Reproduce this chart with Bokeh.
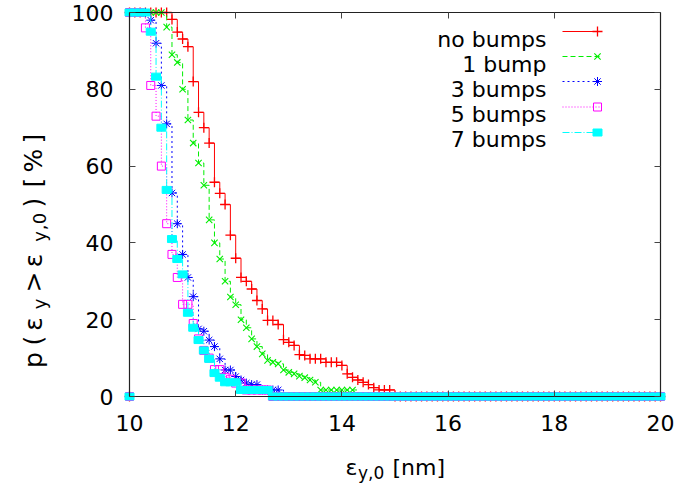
import math
from bokeh.plotting import figure
from bokeh.models import Range1d, LinearAxis, FixedTicker, Label
from bokeh.embed import file_html
from bokeh.resources import INLINE

# threshold grid for eps_y,0 in nm (0.1 nm spacing, 10..20)
eps_grid = [round(10.0 + 0.1 * k, 1) for k in range(101)]

# p(eps_y > eps_y,0) in %, the part of each curve between the 100 % and 0 % plateaus
no_bumps = [98.2, 94.9, 93.1, 91.1, 82, 74, 70, 66, 55.8, 52.9, 50, 42, 36, 31, 30,
            28, 25, 22.8, 19.8, 19.8, 18.75, 14.8, 14.1, 13.3, 10.9, 10.7, 9.8, 9.8,
            9.8, 8.9, 8.9, 8.9, 8.1, 5.9, 5.0, 4.3, 3.7, 3.1, 2.3, 1.7, 1.7, 1.7]
one_bump = [96.2, 89, 87, 80, 72, 66, 60.8, 55, 46, 40, 35.8, 30, 25.9, 23.9, 20, 17.9,
            15, 13, 11.1, 9.4, 8.9, 8.5, 6.9, 6.3, 5.9, 5.3, 4.9, 4.3, 3.7,
            1.7, 1.7, 1.7, 1.7, 1.7, 1.7, 1.7]
three_bumps = [98, 92, 81, 71, 53, 45, 37, 31, 26, 17.6, 17, 14.7, 13, 9.8, 6.9, 6.9,
               5.2, 4.3, 3.5, 3.1, 3.1, 1.7, 1.7, 1.7, 1.7]
five_bumps = [96, 81, 73, 60, 45, 37, 31, 24, 24, 19, 15, 12, 10, 7, 7, 5, 4.5, 3.5, 3.5,
              1.7, 1.7, 1.7, 1.7, 1.7]
seven_bumps = [95, 83.3, 70, 53.8, 41, 35.8, 31.8, 21.8, 17.9, 14.7, 12, 9.8, 6.1, 4.9,
               3.7, 3.7, 3.7, 1.7, 1.7, 1.7, 1.7, 1.7, 1.7]

# number of grid points on the 100 % plateau before each curve starts to fall
plateau = {"no bumps": 8, "1 bump": 7, "3 bumps": 4, "5 bumps": 3, "7 bumps": 4}

labels = ["no bumps", "1 bump", "3 bumps", "5 bumps", "7 bumps"]
curves = [no_bumps, one_bump, three_bumps, five_bumps, seven_bumps]
colors = ["#ff0000", "#00ee00", "#0000ff", "#ff00ff", "#00ffff"]
dashes = ["solid", "5 3", "2 3", "1 2", "7 2 1 2"]
markers = ["cross", "x", "asterisk", "square", "block"]
msizes = [10, 9, 9, 8, 9]
mwidths = [1.3, 1.1, 1, 1, 1]

x_ticks = [10, 12, 14, 16, 18, 20]
y_ticks = [0, 20, 40, 60, 80, 100]

FONT = "DejaVu Sans"
W, H = 678, 483

# plot box in canvas pixels; the frame spans the whole canvas and the
# axes are pinned to the box edges with fixed_location
LEFT, RIGHT, TOP, BOTTOM = 129, 660, 12, 396
PX_X = (RIGHT - LEFT) / 10.0
PX_Y = (BOTTOM - TOP) / 100.0


def dx(px):
    return 10.0 + (px - LEFT) / PX_X


def dy(py):
    return (BOTTOM - py) / PX_Y


p = figure(width=W, height=H, output_backend="svg", toolbar_location=None,
           x_range=Range1d(dx(0), dx(W)), y_range=Range1d(dy(H), dy(0)),
           x_axis_location=None, y_axis_location=None, min_border=0)
p.min_border_left = 0
p.min_border_right = 0
p.min_border_top = 0
p.min_border_bottom = 0
p.xgrid.visible = False
p.ygrid.visible = False
p.outline_line_color = None
p.background_fill_color = "white"
p.border_fill_color = "white"


def make_axis(ticks, loc, bounds, show_labels):
    ax = LinearAxis(ticker=FixedTicker(ticks=ticks), fixed_location=loc, bounds=bounds)
    ax.axis_line_color = "#222222"
    ax.axis_line_width = 1.2
    ax.major_tick_in = 6
    ax.major_tick_out = 0
    ax.major_tick_line_color = "#444444"
    ax.major_tick_line_width = 1
    ax.minor_tick_line_color = None
    ax.major_label_text_font = FONT
    ax.major_label_text_font_size = "22px"
    ax.major_label_text_color = "black" if show_labels else None
    return ax


xb = make_axis(x_ticks, 0, (10, 20), True)
xb.major_label_standoff = 18
p.add_layout(xb, "below")
yl = make_axis(y_ticks, 10, (0, 100), True)
yl.major_label_standoff = 16
p.add_layout(yl, "left")
p.add_layout(make_axis(x_ticks, 100, (10, 20), False), "above")
p.add_layout(make_axis(y_ticks, 20, (0, 100), False), "right")


def draw_points(xs, ys, col, mk, ms, lw):
    if mk == "block":
        # filled boxes, slightly wider than tall
        p.rect(xs, ys, width=ms, height=ms - 2, width_units="screen",
               height_units="screen", fill_color=col, line_color=col, line_width=lw)
    else:
        p.scatter(xs, ys, marker=mk, size=ms, line_color=col, line_width=lw,
                  fill_color=None)


# the step curves with their point markers
for name, vals, col, dash, mk, ms, lw in zip(labels, curves, colors, dashes,
                                             markers, msizes, mwidths):
    n_top = plateau[name]
    n_zero = len(eps_grid) - n_top - len(vals)
    ys = [0.0] + [100.0] * n_top + vals + [0.0] * n_zero
    xs = [eps_grid[0]] + eps_grid
    p.step(xs, ys, mode="after", line_color=col, line_width=1, line_dash=dash)
    draw_points(xs, ys, col, mk, ms, lw)

# key: text on the left, line sample with its marker on the right
key_text_base = [39, 64, 89, 114, 139]     # baseline, px from top
key_line_mid = [31, 56, 81, 106.5, 132]      # sample line, px from top
for i, (name, col, dash, mk, ms, lw) in enumerate(zip(labels, colors, dashes,
                                                      markers, msizes, mwidths)):
    p.add_layout(Label(x=dx(546), y=dy(key_text_base[i]), text=name, text_font=FONT,
                       text_font_size="22px", text_align="right",
                       text_baseline="alphabetic", text_color="black"))
    yk = dy(key_line_mid[i])
    p.segment(x0=[dx(562)], x1=[dx(600)], y0=[yk], y1=[yk], line_color=col,
              line_width=1, line_dash=dash)
    draw_points([dx(597)], [yk], col, mk, ms, lw)


def text_piece(px, py, text, size, angle=0.0, align="left"):
    p.add_layout(Label(x=dx(px), y=dy(py), text=text, text_font=FONT,
                       text_font_size=size, text_align=align,
                       text_baseline="alphabetic", angle=angle,
                       text_color="black"))


# x-axis title: eps_{y,0} [nm]
text_piece(345, 467, "\u03b5", "22px")
text_piece(357.5, 472, "y,0", "17px")
text_piece(392, 467, "[nm]", "22px")

# y-axis title: p(eps_y > eps_{y,0}) [%], rotated, one glyph at a time
half_pi = math.pi / 2
main_chars = [("p", 359.5), ("(", 340), ("\u03b5", 323.5), (">", 281.5),
              ("\u03b5", 260), (")", 202), ("[", 182), ("%", 160), ("]", 138)]
sub_chars = [("y", 303.5), ("y", 236), (",", 227), ("0", 218)]
for ch, yc in main_chars:
    text_piece(33, yc, ch, "25px", angle=half_pi, align="center")
for ch, yc in sub_chars:
    text_piece(39, yc, ch, "18px", angle=half_pi, align="center")

open("out.html", "w").write(file_html(p, INLINE))
